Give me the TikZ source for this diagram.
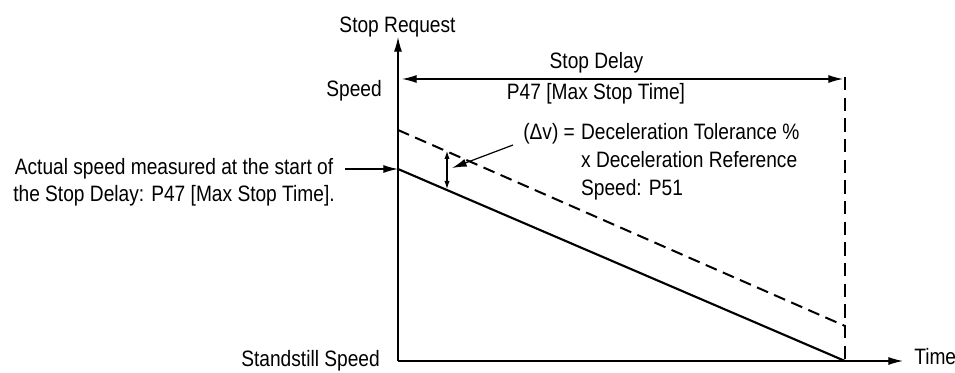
\documentclass[tikz,border=0pt]{standalone}
\usepackage{fontspec}
\setmainfont[FakeStretch=0.86]{Liberation Sans}
\usepackage{tikz}
\usetikzlibrary{arrows,arrows.meta,positioning}
\tikzstyle{txt} = [inner sep=0pt, font=\fontsize{16.7}{20}\selectfont]
\tikzstyle{axis} = [draw, line width=0.9pt, -{Latex[length=11pt,width=6pt]}]
\tikzstyle{arrow} = [draw, line width=0.9pt, -{Latex[length=11pt,width=6pt]}]
\tikzstyle{twoway} = [draw, line width=0.9pt, {Latex[length=11pt,width=6pt]}-{Latex[length=11pt,width=6pt]}]
\tikzstyle{tick} = [draw, line width=0.8pt, {Latex[length=6pt,width=4pt]}-{Latex[length=6pt,width=4pt]}]
\tikzstyle{speed} = [draw, line width=1.6pt]
\tikzstyle{limit} = [draw, line width=1.5pt, dash pattern=on 9pt off 5pt]
\tikzstyle{marker} = [draw, line width=0.9pt, dash pattern=on 10pt off 5.5pt]
\newcommand{\lbltext}[2]{node (t#1) [txt] {#2}}

\begin{document}
\begin{tikzpicture}[x=0.75pt,y=-0.75pt]
\useasboundingbox (0,0) rectangle (955,373);
\coordinate (o) at (398,361);
\coordinate (ytop) at (398,37);
\coordinate (xend) at (903,361);
\coordinate (dtop) at (845,77);
\coordinate (dbot) at (845,361);
\coordinate (s0) at (398,169);
\coordinate (d0) at (398,130);
\coordinate (d1) at (845,326);

% axes and limits
\path [axis] (o) -- (ytop);
\path [axis] (o) -- (xend);
\path [marker] (dtop) -- (dbot);
\path [speed] (s0) -- (dbot);
\path [limit] (d0) -- (d1);

% axis labels
\path (397.5,27) \lbltext{req}{Stop Request};
\path (382,97) node (tspd) [txt,anchor=base east] {Speed};
\path (380,367) node (tss) [txt,anchor=base east] {Standstill Speed};
\path (914,364) node (ttime) [txt,anchor=base west] {Time};

% stop delay
\coordinate (sd0) at (402,79);
\coordinate (sd1) at (843,79);
\path [twoway] (sd0) -- (sd1);
\path (596.5,69) node (tsd) [txt,anchor=base] {Stop Delay};
\path (596,100) node (tmax) [txt,anchor=base] {P47 [Max Stop Time]};

% actual speed
\path (335,175) node (tact) [txt,anchor=base east] {\begin{tabular}[t]{@{}c@{}}Actual speed measured at the start of\\ the Stop Delay: P47 [Max Stop Time].\end{tabular}};
\coordinate (a0) at (345,169);
\path [arrow] (a0) -- (s0);

% tolerance
\coordinate (v0) at (447,151);
\coordinate (v1) at (447,189);
\path [tick] (v0) -- (v1);
\path (523,140) node (tdv) [txt,anchor=base west,font=\fontsize{16.7}{21}\selectfont] {\begin{tabular}[t]{@{}l@{}l@{}}(Δv) =\kern0.28em & Deceleration Tolerance \%\\ & x Deceleration Reference\\ & Speed: P51\end{tabular}};
\coordinate (lead) at (513,145);
\coordinate (ltip) at (452,168);
\path [arrow] (lead) -- (ltip);
\end{tikzpicture}
\end{document}
